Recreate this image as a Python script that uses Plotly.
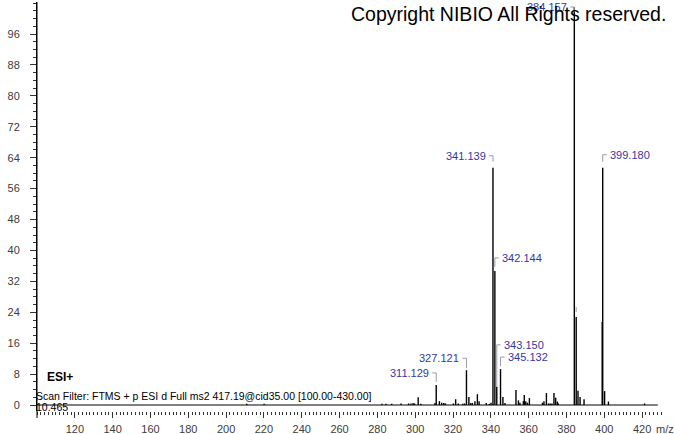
import plotly.graph_objects as go

# ---------------- data ----------------
mz = [211.0, 220.1, 282.4, 284.5, 287.6, 292.5, 296.5, 297.8, 298.9, 299.7, 301.6, 303.0,
      310.5, 311.129, 312.8, 314.0, 315.1, 316.0, 320.2, 321.4, 322.8, 325.2, 326.1, 327.121,
      328.4, 329.3, 330.2, 331.6, 332.9, 333.8, 337.6, 339.2, 340.1, 341.139, 342.144, 343.150,
      345.132, 346.4, 347.5, 353.3, 354.6, 355.4, 357.2, 357.7, 358.5, 359.4, 360.4, 367.3,
      368.1, 369.4, 370.5, 371.4, 372.3, 373.4, 374.3, 375.2, 375.7, 384.157, 385.160, 386.1,
      387.2, 389.3, 398.9, 399.180, 400.18, 402.2, 421.3]
intensity = [0.3, 0.3, 0.3, 0.3, 0.3, 0.4, 0.4, 0.4, 0.5, 0.4, 2.0, 0.3,
             0.5, 5.2, 1.0, 0.6, 0.5, 0.4, 0.4, 1.5, 0.4, 0.3, 0.4, 9.0,
             2.1, 0.5, 0.5, 1.0, 2.8, 1.0, 0.5, 0.3, 0.6, 61.4, 34.7, 4.7,
             9.3, 2.1, 0.5, 3.9, 1.2, 0.6, 1.0, 2.6, 1.0, 0.6, 1.8, 0.6,
             1.0, 3.1, 0.4, 0.4, 0.4, 3.1, 1.9, 0.9, 0.4, 103.0, 22.8, 3.7,
             2.1, 1.5, 21.5, 61.4, 3.6, 0.9, 0.4]

labeled_mz = [311.129, 327.121, 341.139, 342.144, 343.150, 345.132, 384.157, 385.160, 399.180]
label_text = ["311.129", "327.121", "341.139", "342.144", "343.150", "345.132", "384.157", "", "399.180"]

x_range = [100, 430]
y_range = [-1.55, 104.3]
x_tick_labels = [120, 140, 160, 180, 200, 220, 240, 260, 280, 300, 320, 340, 360, 380, 400, 420]
y_tick_labels = [0, 8, 16, 24, 32, 40, 48, 56, 64, 72, 80, 88, 96]

# ---------------- style / layout helpers ----------------
W, H = 674, 434
ML, MR, MT, MB = 37, 13, 2, 23
PX_X = (W - ML - MR) / (x_range[1] - x_range[0])
PX_Y = (H - MT - MB) / (y_range[1] - y_range[0])

# side ('L' = text left of bracket, 'R' = right), bracket top / bottom offset (px above peak top)
label_style = {
    "311.129": ("L", 12, 3),
    "327.121": ("L", 12, 2),
    "341.139": ("L", 12, 6),
    "342.144": ("R", 13, 4),
    "343.150": ("R", 42, 0),
    "345.132": ("R", 12, 3),
    "384.157": ("L", 0, -5),
    "": ("N", 10, 5),
    "399.180": ("R", 13, 6),
}

FONT = "Liberation Sans, Arial, sans-serif"
LABEL_COLOR = "#3636a2"
BRACKET_COLOR = "#9a9aaa"

# stick spectrum
sx, sy = [], []
for m, v in zip(mz, intensity):
    sx += [m, m, None]
    sy += [0, v, None]

fig = go.Figure()
# baseline
fig.add_trace(go.Scatter(x=[x_range[0], mz[-1] + 7], y=[0, 0], mode="lines",
                         line=dict(color="black", width=1), hoverinfo="skip", showlegend=False))
fig.add_trace(go.Scatter(x=sx, y=sy, mode="lines", line=dict(color="black", width=1.4),
                         hoverinfo="skip", showlegend=False))

# label brackets and texts
bx, by = [], []
annotations = []
for m, t in zip(labeled_mz, label_text):
    v = intensity[mz.index(m)]
    side, top, bot = label_style[t]
    ytop = v + top / PX_Y
    ybot = v + bot / PX_Y
    if side == "L":
        bx += [m, m, m - 4 / PX_X, None]
        by += [ybot, ytop, ytop, None]
        annotations.append(dict(x=m, y=ytop, text=t, showarrow=False, xanchor="right",
                                yanchor="middle", xshift=-5,
                                font=dict(family=FONT, size=11, color=LABEL_COLOR)))
    elif side == "R":
        bx += [m, m, m + 4 / PX_X, None]
        by += [ybot, ytop, ytop, None]
        annotations.append(dict(x=m, y=ytop, text=t, showarrow=False, xanchor="left",
                                yanchor="middle", xshift=5,
                                font=dict(family=FONT, size=11, color=LABEL_COLOR)))
    else:
        bx += [m, m, None]
        by += [ybot, ytop, None]

fig.add_trace(go.Scatter(x=bx, y=by, mode="lines", line=dict(color=BRACKET_COLOR, width=1),
                         hoverinfo="skip", showlegend=False))

# texts
annotations += [
    dict(x=1.0, y=1.0, xref="paper", yref="paper", xanchor="right", yanchor="middle",
         text="Copyright NIBIO All Rights reserved.", showarrow=False, xshift=7, yshift=-12,
         font=dict(family=FONT, size=19.5, color="black")),
    dict(x=0, y=0, xref="paper", yref="paper", xanchor="left", yanchor="middle",
         text="<b>ESI+</b>", showarrow=False, xshift=8, yshift=34,
         font=dict(family=FONT, size=12, color="black")),
    dict(x=0, y=0, xref="paper", yref="paper", xanchor="left", yanchor="middle",
         text="Scan Filter: FTMS + p ESI d Full ms2 417.19@cid35.00 [100.00-430.00]",
         showarrow=False, xshift=-3, yshift=15,
         font=dict(family=FONT, size=10.5, color="black")),
    dict(x=0, y=0, xref="paper", yref="paper", xanchor="left", yanchor="middle",
         text="10.465", showarrow=False, xshift=-3, yshift=4,
         font=dict(family=FONT, size=10.5, color="black")),
    dict(x=1.0, y=0, xref="paper", yref="paper", xanchor="center", yanchor="middle",
         text="m/z", showarrow=False, xshift=4, yshift=-18,
         font=dict(family=FONT, size=11, color="#3c3c3c")),
]

fig.update_layout(
    width=W, height=H,
    margin=dict(l=ML, r=MR, t=MT, b=MB, pad=0, autoexpand=False),
    paper_bgcolor="white", plot_bgcolor="white",
    annotations=annotations,
    shapes=[dict(type="line", xref="paper", yref="paper", x0=0, x1=0, y0=-7 / (H - MT - MB), y1=1,
                 line=dict(color="black", width=1))],
)
fig.update_xaxes(range=x_range, automargin=False, showgrid=False, zeroline=False, showline=False,
                 tickvals=x_tick_labels, ticks="outside", ticklen=6, tickwidth=1,
                 tickcolor="#333333", ticklabelstandoff=2,
                 tickfont=dict(family=FONT, size=11, color="#3c3c3c"),
                 minor=dict(tick0=0, dtick=2, ticks="outside", ticklen=3, tickcolor="#333333",
                            tickwidth=1))
fig.update_yaxes(range=y_range, automargin=False, showgrid=False, zeroline=False, showline=True,
                 linecolor="black", linewidth=1, ticks="outside", ticklen=6,
                 tickcolor="#333333", ticklabelstandoff=8,
                 tickvals=y_tick_labels,
                 tickfont=dict(family=FONT, size=11, color="#3c3c3c"),
                 minor=dict(tick0=0, dtick=2, ticks="outside", ticklen=3, tickcolor="#333333",
                            tickwidth=1))

fig.write_html("out.html", config={"displayModeBar": False},
               post_script="document.body.style.margin='0';document.body.style.padding='0';"
                           "document.documentElement.style.overflow='hidden';")
